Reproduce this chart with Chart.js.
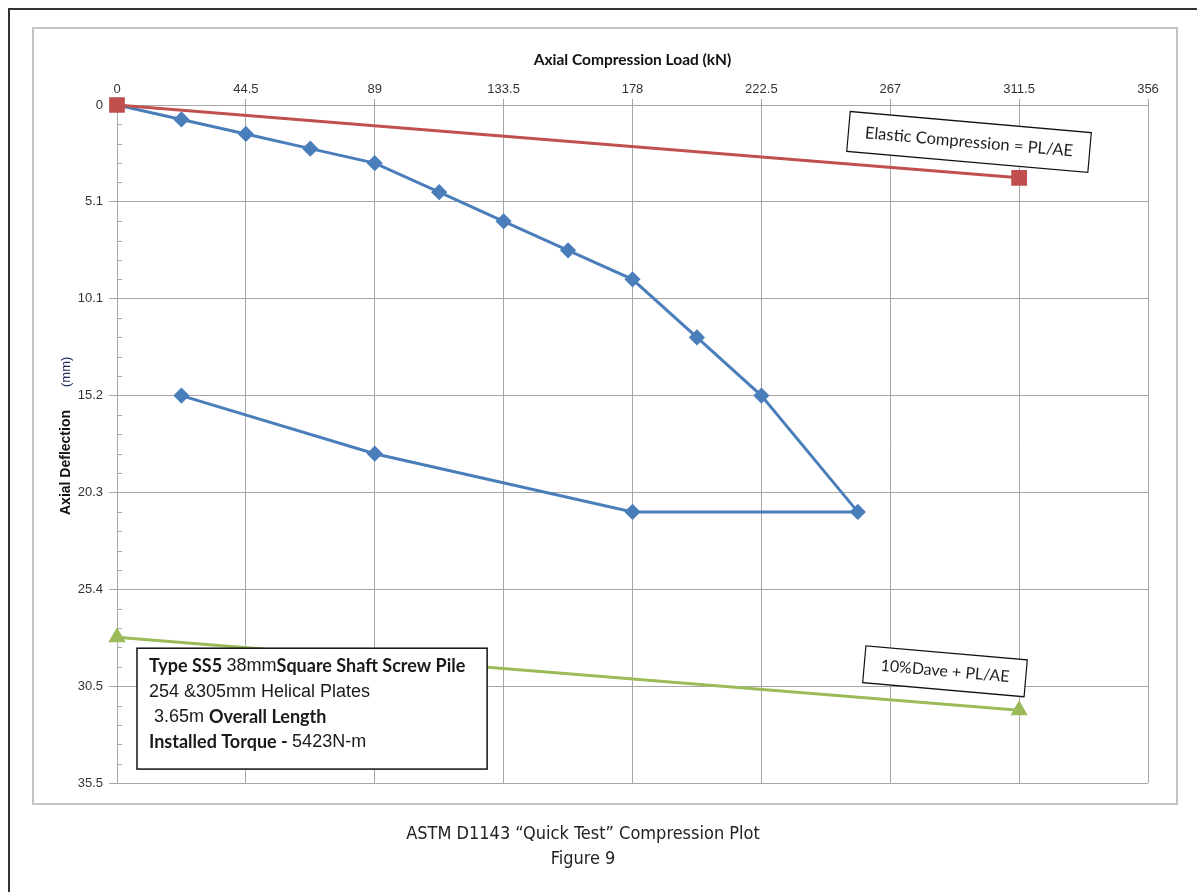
<!DOCTYPE html>
<html>
<head>
<meta charset="utf-8">
<script src="https://cdn.jsdelivr.net/npm/chart.js@4.4.1/dist/chart.umd.min.js"></script>
<style>
  body { margin: 0; background: #fff; overflow: hidden; }
  #wrap { position: relative; width: 1197px; height: 892px; }
  #outer { position: absolute; left: 8px; top: 8px; width: 1300px; height: 1000px; border-left: 2px solid #333; border-top: 2px solid #333; }
  #frame { position: absolute; left: 32px; top: 27px; width: 1142px; height: 774px; border: 2px solid #c4c4c4; }
  #myChart { position: absolute; left: 0; top: 0; }
  .cap { position: absolute; left: 0; width: 1166px; text-align: center; font-family: "Liberation Sans Narrow", "DejaVu Sans Condensed", sans-serif; font-stretch: condensed; font-size: 18px; color: #222; }
</style>
</head>
<body>
<div id="wrap">
  <div id="outer"></div>
  <div id="frame"></div>
  <canvas id="myChart" width="1197" height="892"></canvas>
  <div class="cap" style="top: 822px;">ASTM D1143 “Quick Test” Compression Plot</div>
  <div class="cap" style="top: 847px;">Figure 9</div>
</div>
<script>
// measured load test (kN vs mm)
const loadKN = [0, 22.25, 44.5, 66.75, 89, 111.25, 133.5, 155.75, 178, 200.25, 222.5, 255.8, 178, 89, 22.25]
const deflectionMM = [0, 0.76, 1.52, 2.29, 3.05, 4.57, 6.10, 7.62, 9.14, 12.19, 15.24, 21.34, 21.34, 18.29, 15.24]

// elastic compression line PL/AE
const elasticLoad = [0, 311.5]
const elasticDefl = [0, 3.82]

// 10% Dave + PL/AE line
const daveLoad = [0, 311.5]
const daveDefl = [27.91, 31.74]

// axis ticks
const xTickValues = [0, 44.5, 89, 133.5, 178, 222.5, 267, 311.5, 356]
const xTickLabels = ['0', '44.5', '89', '133.5', '178', '222.5', '267', '311.5', '356']
const yTickValues = [0, 5.08, 10.16, 15.24, 20.32, 25.4, 30.48, 35.56]
const yTickLabels = ['0', '5.1', '10.1', '15.2', '20.3', '25.4', '30.5', '35.5']

const gridColor = '#a6a6a6'
const sans = '"Liberation Sans", Arial, sans-serif'
const cal = 'Lato, "Open Sans", sans-serif'

const toPts = (xs, ys) => xs.map((v, i) => ({ x: v, y: ys[i] }))

const canva = document.querySelector('#myChart')

function drawTag(ctx, cx, cy, w, h, angle, text, font) {
  ctx.save()
  ctx.translate(cx, cy)
  ctx.rotate(angle * Math.PI / 180)
  ctx.fillStyle = '#fff'
  ctx.fillRect(-w / 2, -h / 2, w, h)
  ctx.strokeStyle = '#111'
  ctx.lineWidth = 1.2
  ctx.strokeRect(-w / 2, -h / 2, w, h)
  ctx.fillStyle = '#222'
  ctx.font = font
  ctx.textAlign = 'center'
  ctx.textBaseline = 'middle'
  ctx.fillText(text, 0, 0)
  ctx.restore()
}

function drawRuns(ctx, x, y, runs) {
  let cx = x
  runs.forEach(r => {
    ctx.font = r[1]
    ctx.fillText(r[0], cx, y)
    cx += ctx.measureText(r[0]).width
  })
}

const decor = {
  id: 'decor',
  afterDraw(chart) {
    const ctx = chart.ctx
    const xs = chart.scales.x
    const ys = chart.scales.y
    ctx.save()

    // minor ticks on the deflection axis
    ctx.strokeStyle = gridColor
    ctx.lineWidth = 1
    ctx.beginPath()
    for (let i = 0; i < yTickValues.length - 1; i++) {
      const step = (yTickValues[i + 1] - yTickValues[i]) / 5
      for (let k = 1; k < 5; k++) {
        const py = Math.round(ys.getPixelForValue(yTickValues[i] + k * step)) + 0.5
        ctx.moveTo(xs.left, py)
        ctx.lineTo(xs.left + 5, py)
      }
    }
    ctx.stroke()

    // axis titles
    ctx.fillStyle = '#111'
    ctx.textAlign = 'center'
    ctx.textBaseline = 'middle'
    ctx.font = 'bold 15.5px ' + cal
    ctx.fillText('Axial Compression Load (kN)', (xs.left + xs.right) / 2, 60)

    ctx.save()
    ctx.translate(66, 515)
    ctx.rotate(-Math.PI / 2)
    ctx.textAlign = 'left'
    ctx.font = 'bold 14px ' + sans
    ctx.fillText('Axial Deflection', 0, 0)
    ctx.font = '13px ' + sans
    ctx.fillStyle = '#1f2a5a'
    ctx.fillText('(mm)', 128, 0)
    ctx.restore()

    // labels on the lines
    drawTag(ctx, xs.getPixelForValue(294.2), ys.getPixelForValue(1.94), 242, 40, 5, 'Elastic Compression = PL/AE', '16.5px ' + cal)
    drawTag(ctx, xs.getPixelForValue(285.9), ys.getPixelForValue(29.7), 162, 37, 5, '10%Dave + PL/AE', '16px ' + cal)

    // pile description box
    const bx = xs.getPixelForValue(6.9), by = ys.getPixelForValue(28.49)
    const bw = xs.getPixelForValue(127.8) - bx, bh = ys.getPixelForValue(34.83) - by
    ctx.fillStyle = '#fff'
    ctx.fillRect(bx, by, bw, bh)
    ctx.strokeStyle = '#111'
    ctx.lineWidth = 1.5
    ctx.strokeRect(bx, by, bw, bh)
    ctx.fillStyle = '#1a1a1a'
    ctx.textAlign = 'left'
    ctx.textBaseline = 'middle'
    const b = 'bold 18px ' + cal, r = '18px ' + sans
    drawRuns(ctx, bx + 12, by + 18, [['Type SS5 ', b], ['38mm', r], ['Square Shaft Screw Pile', b]])
    drawRuns(ctx, bx + 12, by + 44, [['254 &305mm Helical Plates', r]])
    drawRuns(ctx, bx + 12, by + 69, [[' 3.65m ', r], ['Overall Length', b]])
    drawRuns(ctx, bx + 12, by + 94, [['Installed Torque - ', b], ['5423N-m', r]])

    ctx.restore()
  }
}

const data = {
  datasets: [{
    label: 'Load test',
    data: toPts(loadKN, deflectionMM),
    showLine: true,
    borderColor: '#4a7ebb',
    backgroundColor: '#4a7ebb',
    borderWidth: 3,
    pointStyle: 'rectRot',
    pointRadius: 6,
    order: 3
  }, {
    label: 'Elastic Compression = PL/AE',
    data: toPts(elasticLoad, elasticDefl),
    showLine: true,
    borderColor: '#c0504d',
    backgroundColor: '#c0504d',
    borderWidth: 3,
    pointStyle: 'rect',
    pointRadius: 9,
    order: 1
  }, {
    label: '10%Dave + PL/AE',
    data: toPts(daveLoad, daveDefl),
    showLine: true,
    borderColor: '#9bbb59',
    backgroundColor: '#9bbb59',
    borderWidth: 3,
    pointStyle: 'triangle',
    pointRadius: 7,
    order: 2
  }]
}

const config = {
  type: 'scatter',
  data: data,
  options: {
    responsive: false,
    animation: false,
    clip: false,
    layout: { padding: { left: 10, top: 20, right: 49, bottom: 109 } },
    plugins: { legend: { display: false }, tooltip: { enabled: false } },
    scales: {
      x: {
        position: 'top',
        min: 0,
        max: 356,
        afterFit: s => { s.height = 85 },
        afterBuildTicks: s => { s.ticks = xTickValues.map(v => ({ value: v })) },
        ticks: {
          autoSkip: false,
          maxRotation: 0,
          padding: 2,
          color: '#333',
          font: { family: sans, size: 13 },
          callback: (v, i) => xTickLabels[i]
        },
        grid: { color: gridColor, tickLength: 6, tickColor: gridColor },
        border: { color: gridColor }
      },
      y: {
        reverse: true,
        min: 0,
        max: 35.56,
        afterFit: s => { s.width = 107 },
        afterBuildTicks: s => { s.ticks = yTickValues.map(v => ({ value: v })) },
        ticks: {
          autoSkip: false,
          padding: 6,
          color: '#333',
          font: { family: sans, size: 13 },
          callback: (v, i) => yTickLabels[i]
        },
        grid: { color: gridColor, tickLength: 8, tickColor: gridColor },
        border: { color: gridColor }
      }
    }
  },
  plugins: [decor]
}

new Chart(canva, config)
</script>
</body>
</html>
